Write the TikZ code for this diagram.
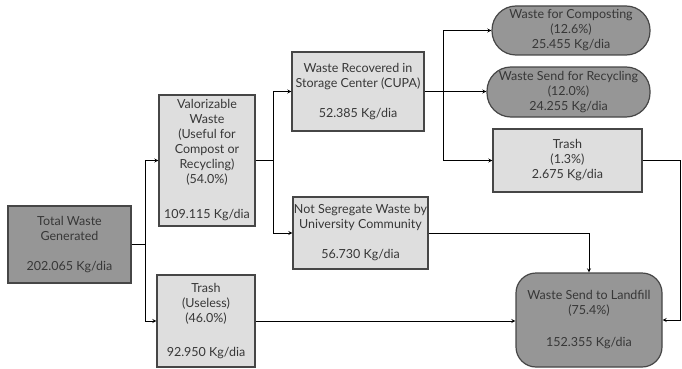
\documentclass[tikz,border=0pt]{standalone}
\usepackage{fontspec}
\setmainfont{Lato}
\definecolor{boxlight}{RGB}{222,222,222}
\definecolor{boxdark}{RGB}{150,150,150}
\definecolor{boxline}{RGB}{70,70,70}
\definecolor{txt}{RGB}{55,55,55}
\begin{document}
\begin{tikzpicture}[x=1pt,y=-1pt,line width=0.8pt,>=stealth,box/.style={draw=boxline,line width=1.2pt,fill=boxlight,text=txt,align=center,inner sep=0pt,font=\fontsize{12.5}{15}\selectfont},dbox/.style={box,fill=boxdark},pill/.style={dbox,rounded corners=24pt}]
\useasboundingbox (0,0) rectangle (682,369);
\node[dbox,minimum width=123,minimum height=77] (total) at (69.5,244.5) {Total Waste\\Generated\\[15pt]202.065 Kg/dia};
\node[box,minimum width=96,minimum height=131] (valor) at (207,160.5) {Valorizable\\Waste\\(Useful for\\Compost or\\Recycling)\\(54.0\%)\\[20pt]109.115 Kg/dia};
\node[box,minimum width=98,minimum height=92] (trashU) at (206,321) {Trash\\(Useless)\\(46.0\%)\\[19pt]92.950 Kg/dia};
\node[box,minimum width=132,minimum height=79] (cupa) at (358,91.5) {Waste Recovered in\\Storage Center (CUPA)\\[15pt]52.385 Kg/dia};
\node[box,minimum width=135,minimum height=72] (notseg) at (360.5,233) {Not Segregate Waste by\\University Community\\[15pt]56.730 Kg/dia};
\node[pill,minimum width=158,minimum height=49] (comp) at (571,30.5) {Waste for Composting\\(12.6\%)\\25.455 Kg/dia};
\node[pill,minimum width=163,minimum height=50] (recyc) at (568.5,92) {Waste Send for Recycling\\(12.0\%)\\24.255 Kg/dia};
\node[box,minimum width=149,minimum height=63] (trash2) at (567.5,160.5) {Trash\\(1.3\%)\\2.675 Kg/dia};
\node[dbox,rounded corners=20pt,minimum width=146,minimum height=94] (land) at (589,320) {Waste Send to Landfill\\(75.4\%)\\[17pt]152.355 Kg/dia};
% junctions
\coordinate (j1) at (145,244.5);
\coordinate (j2) at (273,160.5);
\coordinate (j3) at (443,91.5);
\coordinate (j4) at (680,160.5);
\draw[->] (total.east) -- (j1) |- (valor.west);
\draw[->] (j1) |- (trashU.west);
\draw[->] (valor.east) -- (j2) |- (cupa.west);
\draw[->] (j2) |- (notseg.west);
\draw[->] (cupa.east) -- (cupa.east -| recyc.west);
\draw[->] (j3) |- (comp.west);
\draw[->] (j3) |- (trash2.west);
\draw[->] (notseg.east) -| (land.north);
\draw[->] (trashU.east) -- (trashU.east -| land.west);
\draw[->] (trash2.east) -- (j4) |- (land.east);
\end{tikzpicture}
\end{document}
